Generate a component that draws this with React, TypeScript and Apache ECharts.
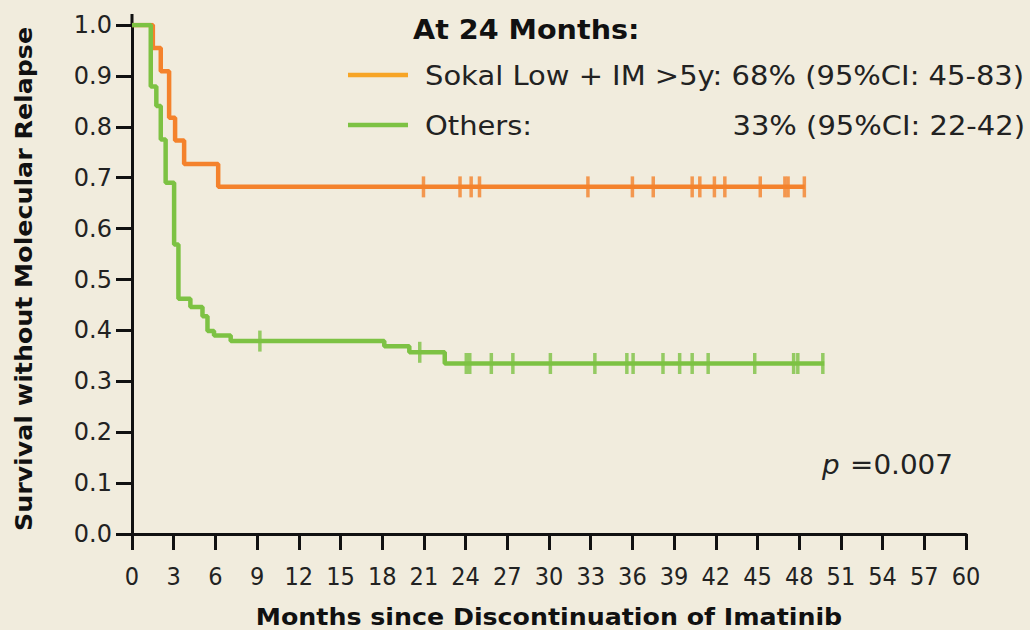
import React, { useEffect, useRef } from "react";
import * as echarts from "echarts";

// Kaplan-Meier step data (time in months, survival after the step)
const orangeTimes = [0, 1.5, 2.07, 2.67, 3.1, 3.75, 6.2, 48.4];
const orangeSurv = [1.0, 0.955, 0.909, 0.818, 0.773, 0.727, 0.682, 0.682];
const orangeCensor = [20.97, 23.6, 24.4, 25.0, 32.8, 36.0, 37.5, 40.3, 40.85, 41.9, 42.65, 45.2, 46.97, 47.2, 48.37];

const greenTimes = [0, 1.35, 1.75, 2.07, 2.42, 3.03, 3.34, 4.2, 5.07, 5.43, 5.9, 7.1, 18.15, 19.95, 22.5, 49.8];
const greenSurv = [1.0, 0.879, 0.841, 0.775, 0.69, 0.569, 0.462, 0.446, 0.428, 0.399, 0.39, 0.379, 0.369, 0.357, 0.335, 0.335];
const greenCensor = [9.2, 20.7, 24.05, 24.3, 25.85, 27.4, 30.1, 33.3, 35.6, 36.05, 38.2, 39.4, 40.3, 41.45, 44.8, 47.6, 47.9, 49.7];

const xTicks = { min: 0, max: 60, interval: 3 };
const yTicks = { min: 0, max: 1, interval: 0.1 };

const legendTitle = "At 24 Months:";
const legendOrange = "Sokal Low + IM >5y: 68% (95%CI: 45-83)";
const legendGreenName = "Others:";
const legendGreenValue = "33% (95%CI: 22-42)";
const pText = "=0.007";
const xTitle = "Months since Discontinuation of Imatinib";
const yTitle = "Survival without Molecular Relapse";

const ORANGE = "#F4822C";
const GREEN = "#7DC243";
const ORANGE_LEG = "#F7A526";
const BG = "#F1ECDD";

function survAt(times: number[], surv: number[], t: number) {
  let v = surv[0];
  for (let i = 0; i < times.length; i++) {
    if (times[i] <= t) v = surv[i];
  }
  return v;
}

export default function App() {
  const ref = useRef<HTMLDivElement>(null);
  useEffect(() => {
    if (!ref.current) return;
    const chart = echarts.init(ref.current, null, { renderer: "svg" });
    const font = "'DejaVu Sans', Verdana, sans-serif";
    const option: any = {
      animation: false,
      backgroundColor: BG,
      grid: { left: 132, right: 64, top: 25, bottom: 96, containLabel: false },
      xAxis: {
        type: "value",
        min: xTicks.min,
        max: xTicks.max,
        interval: xTicks.interval,
        axisLine: { show: true, lineStyle: { color: "#111", width: 3 } },
        axisTick: { show: true, inside: false, length: 16, lineStyle: { color: "#111", width: 3 } },
        splitLine: { show: false },
        axisLabel: {
          margin: 30,
          color: "#222",
          fontSize: 25,
          fontFamily: "'Liberation Sans Narrow', 'DejaVu Sans Condensed', sans-serif",
        },
      },
      yAxis: {
        type: "value",
        min: yTicks.min,
        max: yTicks.max,
        interval: yTicks.interval,
        axisLine: { show: true, lineStyle: { color: "#111", width: 3 } },
        axisTick: { show: true, inside: false, length: 16, lineStyle: { color: "#111", width: 3 } },
        splitLine: { show: false },
        axisLabel: {
          margin: 20,
          color: "#222",
          fontSize: 24,
          fontFamily: font,
          formatter: (v: number) => v.toFixed(1),
        },
      },
      series: [
        {
          type: "line",
          step: "end",
          symbol: "none",
          data: orangeTimes.map((t, i) => [t, orangeSurv[i]]),
          lineStyle: { color: ORANGE, width: 4.5 },
          z: 2,
        },
        {
          type: "line",
          step: "end",
          symbol: "none",
          data: greenTimes.map((t, i) => [t, greenSurv[i]]),
          lineStyle: { color: GREEN, width: 4.5 },
          z: 3,
        },
        {
          type: "scatter",
          symbol: "rect",
          symbolSize: [3.5, 21],
          data: orangeCensor.map((t) => [t, survAt(orangeTimes, orangeSurv, t)]),
          itemStyle: { color: ORANGE },
          z: 4,
        },
        {
          type: "scatter",
          symbol: "rect",
          symbolSize: [3.5, 21],
          data: greenCensor.map((t) => [t, survAt(greenTimes, greenSurv, t)]),
          itemStyle: { color: GREEN },
          z: 4,
        },
      ],
      graphic: [
        { type: "line", shape: { x1: 132, y1: 14, x2: 132, y2: 26 }, style: { stroke: "#111", lineWidth: 3 } },
        {
          type: "text",
          x: 24,
          y: 279,
          rotation: Math.PI / 2,
          scaleX: 1.1,
          style: { text: yTitle, font: `bold 23px ${font}`, fill: "#111", textAlign: "center", textVerticalAlign: "middle" },
        },
        {
          type: "text",
          x: 549,
          y: 617,
          scaleX: 1.1,
          style: { text: xTitle, font: `bold 23px ${font}`, fill: "#111", textAlign: "center", textVerticalAlign: "middle" },
        },
        {
          type: "text",
          x: 413,
          y: 30,
          scaleX: 1.1,
          style: { text: legendTitle, font: `bold 26px ${font}`, fill: "#111", textAlign: "left", textVerticalAlign: "middle" },
        },
        { type: "line", shape: { x1: 348, y1: 75, x2: 408, y2: 75 }, style: { stroke: ORANGE_LEG, lineWidth: 4.5 } },
        {
          type: "text",
          x: 425,
          y: 76,
          scaleX: 1.115,
          style: { text: legendOrange, font: `26px ${font}`, fill: "#222", textAlign: "left", textVerticalAlign: "middle" },
        },
        { type: "line", shape: { x1: 348, y1: 125, x2: 408, y2: 125 }, style: { stroke: GREEN, lineWidth: 4.5 } },
        {
          type: "text",
          x: 425,
          y: 126,
          scaleX: 1.115,
          style: { text: legendGreenName, font: `26px ${font}`, fill: "#222", textAlign: "left", textVerticalAlign: "middle" },
        },
        {
          type: "text",
          x: 1025,
          y: 126,
          scaleX: 1.115,
          style: { text: legendGreenValue, font: `26px ${font}`, fill: "#222", textAlign: "right", textVerticalAlign: "middle" },
        },
        {
          type: "text",
          x: 822,
          y: 465,
          scaleX: 1.07,
          style: { text: "p", font: `italic 26px ${font}`, fill: "#222", textAlign: "left", textVerticalAlign: "middle" },
        },
        {
          type: "text",
          x: 953,
          y: 465,
          scaleX: 1.07,
          style: { text: pText, font: `26px ${font}`, fill: "#222", textAlign: "right", textVerticalAlign: "middle" },
        },
      ],
    };
    chart.setOption(option);
    return () => chart.dispose();
  }, []);
  return <div ref={ref} style={{ position: "fixed", left: 0, top: 0, width: 1030, height: 630 }} />;
}
